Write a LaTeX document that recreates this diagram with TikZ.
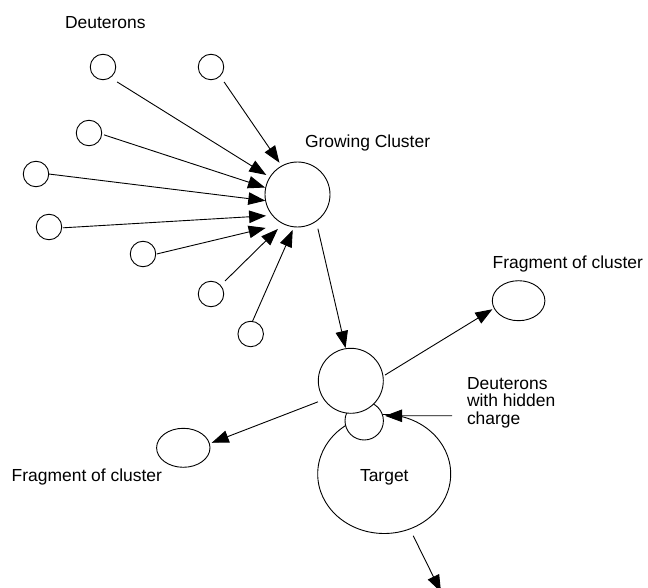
\documentclass[tikz,border=0pt]{standalone}
\usepackage{fontspec}
\setmainfont{Liberation Sans}
\usetikzlibrary{arrows.meta,shapes.geometric}
\begin{document}
\begin{tikzpicture}[x=1pt,y=-1pt,
  every node/.style={inner sep=0pt, outer sep=0pt},
  ball/.style={draw, circle, fill=white, line width=0.9pt},
  deut/.style={ball, minimum size=25.5pt},
  bigball/.style={ball, minimum size=65pt},
  blob/.style={draw, ellipse, fill=white, line width=0.9pt},
  arr/.style={-{Triangle[length=17pt,width=12.5pt]}, line width=0.9pt},
  lbl/.style={font=\fontsize{17.45}{17.5}\selectfont, anchor=base west},
]
\useasboundingbox (0,0) rectangle (648,588);

% deuterons
\node[deut] (d1) at (103,67) {};
\node[deut] (d2) at (211,67) {};
\node[deut] (d3) at (89,133) {};
\node[deut] (d4) at (36,174) {};
\node[deut] (d5) at (49,227) {};
\node[deut] (d6) at (143,254) {};
\node[deut] (d7) at (211,294) {};
\node[deut] (d8) at (250.7,334) {};

% growing cluster
\node[bigball] (gc) at (297.5,194.5) {};

% target, hidden charge, cluster
\node[blob, minimum width=133pt, minimum height=119pt] (tg) at (384.2,474) {};
\node[ball, minimum size=38.4pt] (hc) at (364.2,420.8) {};
\node[bigball] (c2) at (350.8,380.8) {};

% fragments
\node[blob, minimum width=52.6pt, minimum height=40pt] (f1) at (518.6,300.7) {};
\node[blob, minimum width=53.4pt, minimum height=39pt] (f2) at (183.3,447.8) {};

% labels
\node[lbl] (ldeut) at (65,28.3) {Deuterons};
\node[lbl] (lgc) at (305,147.3) {Growing Cluster};
\node[lbl] (lf1) at (492.7,268.3) {Fragment of cluster};
\node[lbl] (lf2) at (11.7,481.7) {Fragment of cluster};
\node[lbl, anchor=base] (ltg) at (384.3,481.7) {Target};
\node[lbl, align=left] (lhc) at (467,424) {Deuterons\\with hidden\\charge};

% free ends
\coordinate (hcs) at (452,415.7);
\coordinate (out) at (441,592);

% arrows deuterons -> growing cluster
\draw[arr, shorten <=8.2pt, shorten >=4.3pt] (d1.-56.8) -- (gc.148.3);
\draw[arr, shorten <=7.2pt, shorten >=4pt] (d2.-45.3) -- (gc.119.9);
\draw[arr, shorten <=2.4pt, shorten >=0.7pt] (d3.-5.4) -- (gc.168.8);
\draw[arr, shorten >=0.3pt] (d4.0) -- (gc.191.6);
\draw[arr, shorten <=1.3pt, shorten >=6.5pt] (d5.-4.9) -- (gc.220.2);
\draw[arr, shorten <=1.3pt, shorten >=18.1pt] (d6.-1.3) -- (gc.244.6);
\draw[arr, shorten <=6.4pt, shorten >=7.5pt] (d7.42.1) -- (gc.244.1);
\draw[arr, shorten >=3.4pt] (d8.82.8) -- (gc.264.5);

% cluster moves to target
\draw[arr, shorten <=7.8pt, shorten >=0.7pt] (gc.-55.9) -- (c2.99.9);

% fragments
\draw[arr, shorten <=2.4pt, shorten >=2.1pt] (c2.8.1) -- (f1.197.6);
\draw[arr, shorten <=6.7pt, shorten >=2.5pt] (c2.215.4) -- (f2.9.1);

% hidden charge
\draw[arr, shorten >=2.3pt] (hcs) -- (hc.15.4);

% outgoing
\draw[arr, shorten <=7.6pt] (tg.-65.96) -- (out);
\end{tikzpicture}
\end{document}
